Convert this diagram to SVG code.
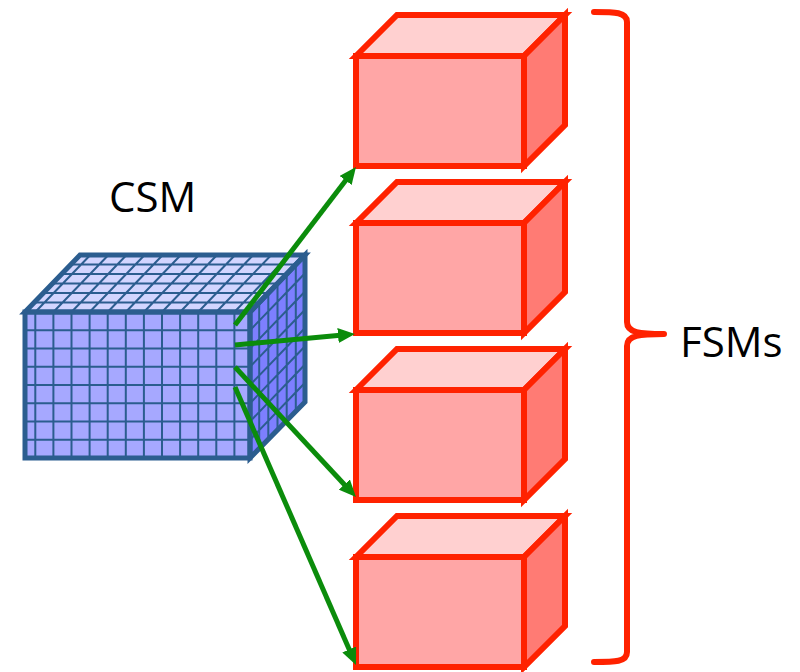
<svg xmlns="http://www.w3.org/2000/svg" width="800" height="672" viewBox="0 0 800 672">
  <style>
    .lbl { font-family: "Open Sans", "Liberation Sans", Arial, sans-serif; font-size: 42px; fill: #000; }
    .rb { stroke: #FF2200; stroke-width: 6; stroke-linejoin: miter; }
    .rb-front { fill: #FFA6A6; }
    .rb-top { fill: #FFD0D0; }
    .rb-side { fill: #FF7B74; }
    .cb { stroke: #2B5D8F; stroke-width: 5; stroke-linejoin: miter; }
    .grid { stroke: #2B5D8F; stroke-width: 2; fill: none; }
    .conn { stroke: #0B8C0B; stroke-width: 5; fill: none; }
    .brace { stroke: #FF2200; stroke-width: 6; fill: none; stroke-linecap: round; stroke-linejoin: round; }
  </style>
  <defs>
    <marker id="head" markerUnits="userSpaceOnUse" markerWidth="17" markerHeight="15" viewBox="0 0 17 15" refX="5" refY="7.5" orient="auto">
      <path d="M0,0 L17,7.5 L0,15 z" fill="#0B8C0B"/>
    </marker>
    <!-- one red box, front face at origin (168 x 110), depth offset 41 -->
    <g id="redbox">
      <polygon class="rb rb-top" points="0,0 41,-41 209,-41 168,0"/>
      <polygon class="rb rb-side" points="168,0 209,-41 209,69 168,110"/>
      <rect class="rb rb-front" x="0" y="0" width="168" height="110"/>
    </g>
  </defs>

  <!-- CSM cube -->
  <g id="csm">
    <polygon fill="#D2D5FF" points="25,312 80,255 305,255 250,312"/>
    <polygon fill="#7D7FFF" points="250,312 305,255 305,402 250,458"/>
    <rect fill="#A6A8FF" x="25" y="312" width="225" height="146"/>
    <!-- front grid -->
    <path class="grid" d="M35.3,312V458 M53.4,312V458 M71.5,312V458 M89.6,312V458 M107.7,312V458 M125.8,312V458 M143.9,312V458 M162,312V458 M180.1,312V458 M198.2,312V458 M216.3,312V458 M234.4,312V458
      M25,330.3H250 M25,348.5H250 M25,366.8H250 M25,385H250 M25,403.3H250 M25,421.5H250 M25,439.8H250"/>
    <!-- top grid -->
    <path class="grid" d="M35.3,312l55,-57 M53.4,312l55,-57 M71.5,312l55,-57 M89.6,312l55,-57 M107.7,312l55,-57 M125.8,312l55,-57 M143.9,312l55,-57 M162,312l55,-57 M180.1,312l55,-57 M198.2,312l55,-57 M216.3,312l55,-57 M234.4,312l55,-57
      M34.2,302.5H259.2 M43.3,293H268.3 M52.5,283.5H277.5 M61.7,274H286.7 M70.8,264.5H295.8"/>
    <!-- side grid -->
    <path class="grid" d="M259.2,302.5V448.5 M268.3,293V439 M277.5,283.5V429.5 M286.7,274V420 M295.8,264.5V410.5
      M250,330.3l55,-57 M250,348.5l55,-57 M250,366.8l55,-57 M250,385l55,-57 M250,403.3l55,-57 M250,421.5l55,-57 M250,439.8l55,-57"/>
    <polygon class="cb" fill="none" points="25,312 80,255 305,255 250,312"/>
    <polygon class="cb" fill="none" points="250,312 305,255 305,402 250,458"/>
    <rect class="cb" fill="none" x="25" y="312" width="225" height="146"/>
  </g>
  <text class="lbl" x="109" y="212">CSM</text>

  <!-- FSM boxes -->
  <g id="fsm1"><use href="#redbox" x="356" y="56"/></g>
  <g id="fsm2"><use href="#redbox" x="356" y="223"/></g>
  <g id="fsm3"><use href="#redbox" x="356" y="390"/></g>
  <g id="fsm4"><use href="#redbox" x="356" y="557"/></g>

  <!-- connectors -->
  <g id="connectors">
    <line class="conn" x1="235" y1="325" x2="348.7" y2="176.5" marker-end="url(#head)"/>
    <line class="conn" x1="235" y1="345" x2="343" y2="335.1" marker-end="url(#head)"/>
    <line class="conn" x1="235" y1="367" x2="347.8" y2="488.2" marker-end="url(#head)"/>
    <line class="conn" x1="235" y1="387" x2="351.2" y2="654" marker-end="url(#head)"/>
  </g>

  <!-- brace -->
  <g id="fsms">
    <path class="brace" d="M594,12 C615,12 627,12 627,22 V322 C627,333 640,334 664,334 C640,334 627,335 627,346 V652 C627,662 615,662 594,662"/>
    <text class="lbl" x="680" y="357">FSMs</text>
  </g>
</svg>
